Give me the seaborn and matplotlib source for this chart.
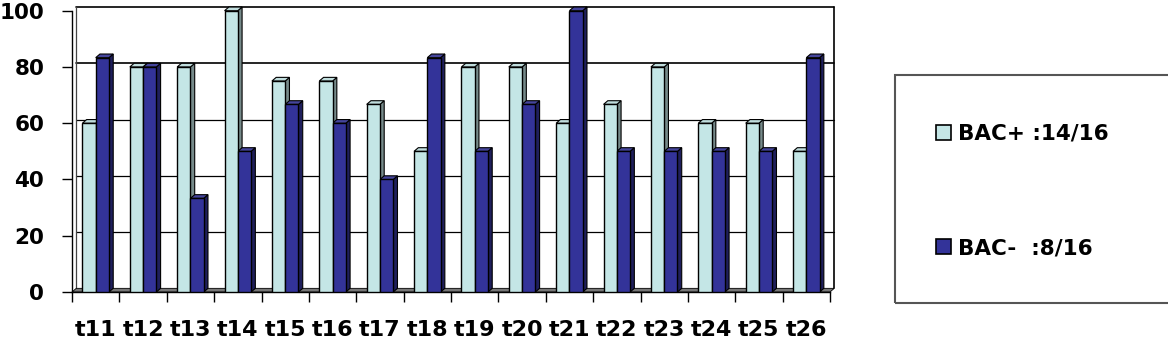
import numpy as np
import pandas as pd
import seaborn as sns
import matplotlib
matplotlib.use("Agg")
import matplotlib.pyplot as plt
from matplotlib.patches import Polygon, Rectangle
import matplotlib.colors as mcolors

categories = ["t11", "t12", "t13", "t14", "t15", "t16", "t17", "t18",
              "t19", "t20", "t21", "t22", "t23", "t24", "t25", "t26"]
bac_pos = [60, 80, 80, 100, 75, 75, 66.7, 50, 80, 80, 60, 66.7, 80, 60, 60, 50]
bac_neg = [83.3, 80, 33.3, 50, 66.7, 60, 40, 83.3, 50, 66.7, 100, 50, 50, 50, 50, 83.3]
series_names = ["BAC+ :14/16", "BAC-  :8/16"]
yticks = [0, 20, 40, 60, 80, 100]

light = "#C4E6E6"
dark = "#333399"

df = pd.DataFrame({
    "cat": categories * 2,
    "val": bac_pos + bac_neg,
    "series": [series_names[0]] * len(categories) + [series_names[1]] * len(categories),
})

sns.set_theme(style="white")
plt.rcParams["font.family"] = ["DejaVu Sans"]
plt.rcParams["font.weight"] = "bold"
plt.rcParams["text.color"] = "black"
plt.rcParams["xtick.color"] = "black"
plt.rcParams["ytick.color"] = "black"
plt.rcParams["xtick.labelcolor"] = "black"
plt.rcParams["ytick.labelcolor"] = "black"

fig = plt.figure(figsize=(11.68, 3.64), dpi=100)
ax = fig.add_axes([72 / 1168, 1 - 292 / 364, (830 - 72) / 1168, (292 - 10.7) / 364])

sns.barplot(data=df, x="cat", y="val", hue="series", palette=[light, dark],
            width=0.56, edgecolor="black", linewidth=1.0, legend=False,
            ax=ax, zorder=3, saturation=1)

ax.set_xlim(-0.5, len(categories) - 0.5)
ax.set_ylim(0, 100)

dx, dy = 0.09, 1.3

# 3D depth faces from the bars' own geometry
for p in list(ax.patches):
    x0 = p.get_x()
    w = p.get_width()
    h = p.get_height()
    if h <= 0:
        continue
    fc = np.array(mcolors.to_rgb(p.get_facecolor()))
    side = fc * 0.6
    top = np.clip(fc * 0.85 + 0.1, 0, 1)
    x1 = x0 + w
    ax.add_patch(Polygon([(x1, 0), (x1 + dx, dy), (x1 + dx, h + dy), (x1, h)],
                         closed=True, facecolor=side, edgecolor="black",
                         linewidth=0.8, zorder=p.get_zorder() - 0.1, clip_on=False))
    ax.add_patch(Polygon([(x0, h), (x0 + dx, h + dy), (x1 + dx, h + dy), (x1, h)],
                         closed=True, facecolor=top, edgecolor="black",
                         linewidth=0.8, zorder=p.get_zorder() - 0.1, clip_on=False))

xlo, xhi = ax.get_xlim()
# back wall grid lines
for yv in yticks[1:]:
    ax.plot([xlo + dx, xhi + dx], [yv + dy, yv + dy], color="black",
            linewidth=1.2 if yv in (80, 100) else 0.9, zorder=1, clip_on=False)
ax.plot([xlo + dx, xlo + dx], [dy, 100 + dy], color="#444444", linewidth=0.9, zorder=1, clip_on=False)
ax.plot([xhi + dx, xhi + dx], [dy, 100 + dy], color="black", linewidth=1.2, zorder=1, clip_on=False)
# floor
ax.add_patch(Polygon([(xlo, 0), (xlo + dx, dy), (xhi + dx, dy), (xhi, 0)], closed=True,
                     facecolor="#777777", edgecolor="black", linewidth=0.6, zorder=2, clip_on=False))

for s in ["top", "right"]:
    ax.spines[s].set_visible(False)
for s in ["left", "bottom"]:
    ax.spines[s].set_color("black")
    ax.spines[s].set_linewidth(1.0)

ax.set_yticks(yticks)
ax.set_yticklabels([str(v) for v in yticks], fontsize=15.5, fontweight="bold", color="black")
ax.tick_params(axis="y", direction="out", length=7, width=1, color="black", left=True, pad=13)
ax.set_xticks(range(len(categories)))
ax.set_xticklabels(categories, fontsize=16, fontweight="bold", color="black")
ax.set_xticks(np.arange(-0.5, len(categories)), minor=True)
ax.tick_params(axis="x", which="major", length=0, pad=20)
ax.tick_params(axis="x", which="minor", direction="out", length=7, width=1, color="black", bottom=True)
ax.set_xlabel("")
ax.set_ylabel("")
ax.grid(False)

# legend
fig.patches.append(Rectangle((895 / 1168, 1 - 303 / 364), 0.3, (303 - 75) / 364,
                             transform=fig.transFigure, facecolor="none",
                             edgecolor="#555555", linewidth=1.5))
handles = [Rectangle((0, 0), 1, 1, facecolor=light, edgecolor="black", linewidth=1.2),
           Rectangle((0, 0), 1, 1, facecolor=dark, edgecolor="black", linewidth=1.2)]
leg = fig.legend(handles, series_names, loc="center left", bbox_to_anchor=(936 / 1168, 1 - 191 / 364),
                 frameon=False, prop={"size": 15.5, "weight": "bold"}, handlelength=0.7,
                 handleheight=0.7, handletextpad=0.3, labelspacing=4.4, borderpad=0, borderaxespad=0)
for t in leg.get_texts():
    t.set_color("black")

fig.savefig("out.png", dpi=100)
